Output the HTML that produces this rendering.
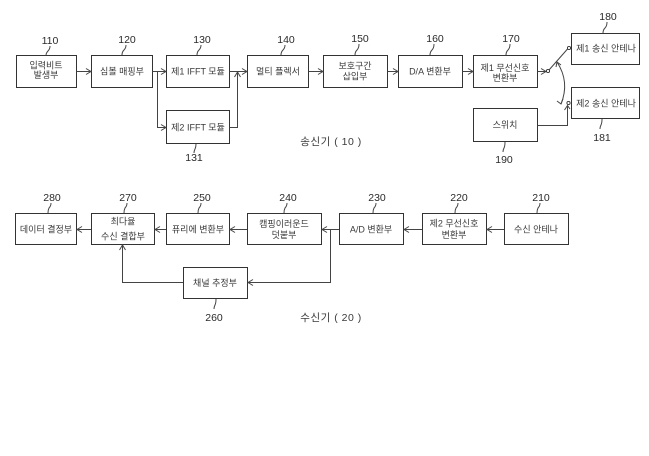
<!DOCTYPE html>
<html>
<head>
<meta charset="utf-8">
<style>
html,body{margin:0;padding:0;background:#fff;}
svg{display:block;}
text{font-family:"Liberation Sans","Noto Sans CJK KR","NanumGothic",sans-serif;fill:#3a3a3a;}
.t{font-size:9px;text-anchor:middle;}
.n{font-size:10.5px;text-anchor:middle;fill:#2a2a2a;}
.c{font-size:10.5px;text-anchor:middle;fill:#3a3a3a;letter-spacing:0.5px;}
rect{fill:#fff;stroke:#333;stroke-width:1;}
.l{fill:none;stroke:#444;stroke-width:1;}
.a{fill:none;stroke:#444;stroke-width:1;}
</style>
</head>
<body>
<svg width="649" height="456" viewBox="0 0 649 456" xmlns="http://www.w3.org/2000/svg">
<!-- ===== Transmitter ===== -->
<rect x="16.5" y="55.5" width="60" height="32"/>
<rect x="91.5" y="55.5" width="61" height="32"/>
<rect x="166.5" y="55.5" width="63" height="32"/>
<rect x="166.5" y="110.5" width="63" height="33"/>
<rect x="247.5" y="55.5" width="61" height="32"/>
<rect x="323.5" y="55.5" width="64" height="32"/>
<rect x="398.5" y="55.5" width="64" height="32"/>
<rect x="473.5" y="55.5" width="64" height="32"/>
<rect x="571.5" y="33.5" width="68" height="31"/>
<rect x="571.5" y="87.5" width="68" height="31"/>
<rect x="473.5" y="108.5" width="64" height="33"/>

<text class="t" x="46" y="68.5">입력비트</text>
<text class="t" x="46" y="78">발생부</text>
<text class="t" x="122" y="74.5">심볼 매핑부</text>
<text class="t" x="198" y="74.5">제1 IFFT 모듈</text>
<text class="t" x="198" y="130.5">제2 IFFT 모듈</text>
<text class="t" x="278" y="74.5">멀티 플렉서</text>
<text class="t" x="355" y="69">보호구간</text>
<text class="t" x="355" y="79.5">삽입부</text>
<text class="t" x="430" y="74.5">D/A 변환부</text>
<text class="t" x="505" y="71">제1 무선신호</text>
<text class="t" x="505" y="81">변환부</text>
<text class="t" x="606" y="51.5">제1 송신 안테나</text>
<text class="t" x="606" y="106.5">제2 송신 안테나</text>
<text class="t" x="505" y="128">스위치</text>

<text class="n" x="50" y="44">110</text>
<text class="n" x="127" y="43">120</text>
<text class="n" x="202" y="43">130</text>
<text class="n" x="286" y="43">140</text>
<text class="n" x="360" y="42">150</text>
<text class="n" x="435" y="42">160</text>
<text class="n" x="511" y="42">170</text>
<text class="n" x="608" y="20">180</text>
<text class="n" x="602" y="141">181</text>
<text class="n" x="504" y="163">190</text>
<text class="n" x="194" y="161">131</text>

<path class="l" d="M50 46 q0 3 -2 5 q-2 2 -2 4.5"/>
<path class="l" d="M126 45 q0 3 -2 5 q-2 2 -2 5"/>
<path class="l" d="M201 45 q0 3 -2 5 q-2 2 -2 5"/>
<path class="l" d="M285 45 q0 3 -2 5 q-2 2 -2 5"/>
<path class="l" d="M359 44 q0 4 -2 6 q-2 2 -2 5"/>
<path class="l" d="M434 44 q0 4 -2 6 q-2 2 -2 5"/>
<path class="l" d="M510 44 q0 4 -2 6 q-2 2 -2 5"/>
<path class="l" d="M607 22 q0 4 -2 6 q-2 2 -2 5"/>
<path class="l" d="M602 119 q0 4 -1 6 q-1 2 -1 4"/>
<path class="l" d="M505 142 q0 4 -1 6 q-1 2 -1 4"/>
<path class="l" d="M196 144 q0 3 -1 5 q-1 2 -1 4"/>

<path class="l" d="M76.5 71.5 H91"/>
<path class="a" d="M86 68.5 L91 71.5 L86 74.5"/>
<path class="l" d="M152.5 71.5 H166"/>
<path class="a" d="M161 68.5 L166 71.5 L161 74.5"/>
<path class="l" d="M157.5 71.5 V127.5 H166"/>
<path class="a" d="M161 124.5 L166 127.5 L161 130.5"/>
<path class="l" d="M229.5 71.5 H247"/>
<path class="a" d="M242 68.5 L247 71.5 L242 74.5"/>
<path class="l" d="M229.5 127.5 H237.5 V72"/>
<path class="a" d="M234.5 77 L237.5 72 L240.5 77"/>
<path class="l" d="M308.5 71.5 H323"/>
<path class="a" d="M318 68.5 L323 71.5 L318 74.5"/>
<path class="l" d="M387.5 71.5 H398"/>
<path class="a" d="M393 68.5 L398 71.5 L393 74.5"/>
<path class="l" d="M462.5 71.5 H473"/>
<path class="a" d="M468 68.5 L473 71.5 L468 74.5"/>
<path class="l" d="M537.5 71.5 H546"/>
<path class="a" d="M541 68.5 L546 71.5 L541 74.5"/>
<circle cx="548" cy="71" r="1.6" fill="#fff" stroke="#333" stroke-width="0.9"/>
<path class="l" d="M549 70 L567.5 49"/>
<circle cx="569" cy="48" r="1.6" fill="#fff" stroke="#333" stroke-width="0.9"/>
<circle cx="568.5" cy="103" r="1.6" fill="#fff" stroke="#333" stroke-width="0.9"/>
<path class="l" d="M557 62 Q570 82 561 104"/>
<path class="a" d="M556 67 L557 62 L561 65"/>
<path class="a" d="M557 101 L561 104 L563 99"/>
<path class="l" d="M537.5 125.5 H567.5 V106"/>
<path class="a" d="M564.5 110 L567.5 105.5 L570 109"/>

<text class="c" x="331" y="145">송신기 ( 10 )</text>

<!-- ===== Receiver ===== -->
<rect x="15.5" y="213.5" width="61" height="31"/>
<rect x="91.5" y="213.5" width="63" height="31"/>
<rect x="166.5" y="213.5" width="63" height="31"/>
<rect x="247.5" y="213.5" width="74" height="31"/>
<rect x="339.5" y="213.5" width="64" height="31"/>
<rect x="422.5" y="213.5" width="64" height="31"/>
<rect x="504.5" y="213.5" width="64" height="31"/>
<rect x="183.5" y="267.5" width="64" height="31"/>

<text class="t" x="46" y="232.5">데이터 결정부</text>
<text class="t" x="123" y="224.5">최다율</text>
<text class="t" x="123" y="239.5">수신 결합부</text>
<text class="t" x="198" y="232.5">퓨리에 변환부</text>
<text class="t" x="284" y="227">캠핑이러운드</text>
<text class="t" x="284" y="238">덧붙부</text>
<text class="t" x="371" y="232.5">A/D 변환부</text>
<text class="t" x="454" y="226.5">제2 무선신호</text>
<text class="t" x="454" y="238">변환부</text>
<text class="t" x="536" y="232.5">수신 안테나</text>
<text class="t" x="215" y="286">채널 추정부</text>

<text class="n" x="52" y="201">280</text>
<text class="n" x="128" y="201">270</text>
<text class="n" x="202" y="201">250</text>
<text class="n" x="288" y="201">240</text>
<text class="n" x="377" y="201">230</text>
<text class="n" x="459" y="201">220</text>
<text class="n" x="541" y="201">210</text>
<text class="n" x="214" y="321">260</text>

<path class="l" d="M51 203 q0 3 -2 5 q-1 2 -1 5"/>
<path class="l" d="M127 203 q0 3 -2 5 q-1 2 -1 5"/>
<path class="l" d="M201 203 q0 3 -2 5 q-1 2 -1 5"/>
<path class="l" d="M287 203 q0 3 -2 5 q-1 2 -1 5"/>
<path class="l" d="M376 203 q0 3 -2 5 q-1 2 -1 5"/>
<path class="l" d="M458 203 q0 3 -2 5 q-1 2 -1 5"/>
<path class="l" d="M540 203 q0 3 -2 5 q-1 2 -1 5"/>
<path class="l" d="M216 299 q0 4 -1 6 q-1 2 -1 4"/>

<path class="l" d="M504 229.5 H487"/>
<path class="a" d="M492 226.5 L487 229.5 L492 232.5"/>
<path class="l" d="M422 229.5 H404"/>
<path class="a" d="M409 226.5 L404 229.5 L409 232.5"/>
<path class="l" d="M339 229.5 H322"/>
<path class="a" d="M327 226.5 L322 229.5 L327 232.5"/>
<path class="l" d="M330.5 229.5 V282.5 H248"/>
<path class="a" d="M253 279.5 L248 282.5 L253 285.5"/>
<path class="l" d="M247 229.5 H230"/>
<path class="a" d="M235 226.5 L230 229.5 L235 232.5"/>
<path class="l" d="M166 229.5 H155"/>
<path class="a" d="M160 226.5 L155 229.5 L160 232.5"/>
<path class="l" d="M91 229.5 H77"/>
<path class="a" d="M82 226.5 L77 229.5 L82 232.5"/>
<path class="l" d="M183 282.5 H122.5 V245"/>
<path class="a" d="M119.5 250 L122.5 245 L125.5 250"/>

<text class="c" x="331" y="321">수신기 ( 20 )</text>
</svg>
</body>
</html>
